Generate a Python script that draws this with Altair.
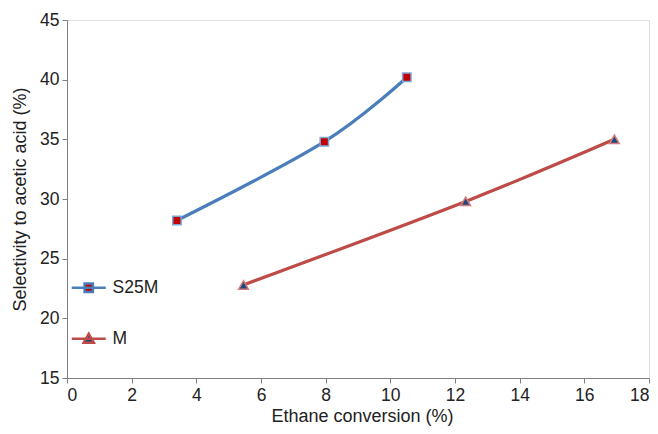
import altair as alt
import pandas as pd

series_names = ["S25M", "M"]
s25m_x = [3.40, 7.96, 10.51]
s25m_y = [28.2, 34.8, 40.2]
m_x = [5.46, 12.33, 16.93]
m_y = [22.8, 29.8, 35.0]

x_ticks = [0, 2, 4, 6, 8, 10, 12, 14, 16, 18]
y_ticks = [15, 20, 25, 30, 35, 40, 45]

line_colors = ["#4A7EBB", "#BE4B48"]
marker_fills = ["#C00000", "#1F497D"]
marker_strokes = ["#7FA6D8", "#D47C7A"]
marker_shapes = ["square", "triangle-up"]
marker_sizes = [70, 95]
# legend glyphs: a line segment with the series marker in the middle
legend_paths = ["M-3.4,0H3.4M-0.85,-0.85H0.85V0.85H-0.85Z", "M-3.4,0H3.4M-1.05,0.8L0,-1.05L1.05,0.8Z"]

df = pd.DataFrame({
    "series": [series_names[0]] * len(s25m_x) + [series_names[1]] * len(m_x),
    "x": s25m_x + m_x,
    "y": s25m_y + m_y,
})

FONT = "Liberation Sans"

x_enc = alt.X(
    "x:Q",
    scale=alt.Scale(domain=[0, 18], nice=False, zero=False),
    axis=alt.Axis(values=x_ticks, title="Ethane conversion (%)", grid=False,
                  domainColor="#808080", tickColor="#808080", tickSize=5,
                  labelFontSize=17.5, labelFont=FONT, labelColor="#222222",
                  labelPadding=3, titleFont=FONT, titleFontSize=18, titleX=295,
                  titleFontWeight="normal", titleColor="#222222", titlePadding=4),
)
y_enc = alt.Y(
    "y:Q",
    scale=alt.Scale(domain=[15, 45], nice=False, zero=False),
    axis=alt.Axis(values=y_ticks, title="Selectivity to acetic acid (%)", grid=False,
                  domainColor="#808080", tickColor="#808080", tickSize=5,
                  labelFontSize=17.5, labelFont=FONT, labelColor="#222222",
                  labelPadding=3, titleFont=FONT, titleFontSize=18,
                  titleFontWeight="normal", titleColor="#222222", titlePadding=10),
)

base = alt.Chart(df)

layers = []
for i, name in enumerate(series_names):
    sub = base.transform_filter(alt.datum.series == name)
    layers.append(sub.mark_line(strokeWidth=3.2, interpolate="cardinal", stroke=line_colors[i]).encode(
        x=x_enc, y=y_enc))
for i, name in enumerate(series_names):
    sub = base.transform_filter(alt.datum.series == name)
    layers.append(sub.mark_point(
        shape=marker_shapes[i], filled=True, size=marker_sizes[i], fill=marker_fills[i],
        stroke=marker_strokes[i], strokeWidth=1.5, opacity=1,
    ).encode(x="x:Q", y="y:Q"))

leg = alt.Legend(
    orient="none", legendX=13, legendY=259, title=None,
    labelFontSize=17.5, labelFont=FONT, labelColor="#222222",
    symbolSize=100, symbolStrokeWidth=2.3, symbolOpacity=1,
    labelOffset=15, rowPadding=31,
)

# legend-only layer (no data rows pass the filter; the legend comes from the scales)
legend_layer = base.transform_filter("false").mark_point(filled=True, opacity=1).encode(
    x="x:Q", y="y:Q",
    shape=alt.Shape("series:N", scale=alt.Scale(domain=series_names, range=legend_paths), legend=leg),
    fill=alt.Fill("series:N", scale=alt.Scale(domain=series_names, range=marker_fills), legend=leg),
    stroke=alt.Stroke("series:N", scale=alt.Scale(domain=series_names, range=line_colors), legend=leg),
)
layers.append(legend_layer)

chart = alt.layer(*layers).properties(
    width=582, height=358,
    autosize=alt.AutoSizeParams(type="none"),
    padding={"left": 67, "top": 20, "right": 9, "bottom": 56},
).configure_view(stroke=None).configure(background="white")

chart.save("out.html", embed_options={"renderer": "svg", "actions": False})
